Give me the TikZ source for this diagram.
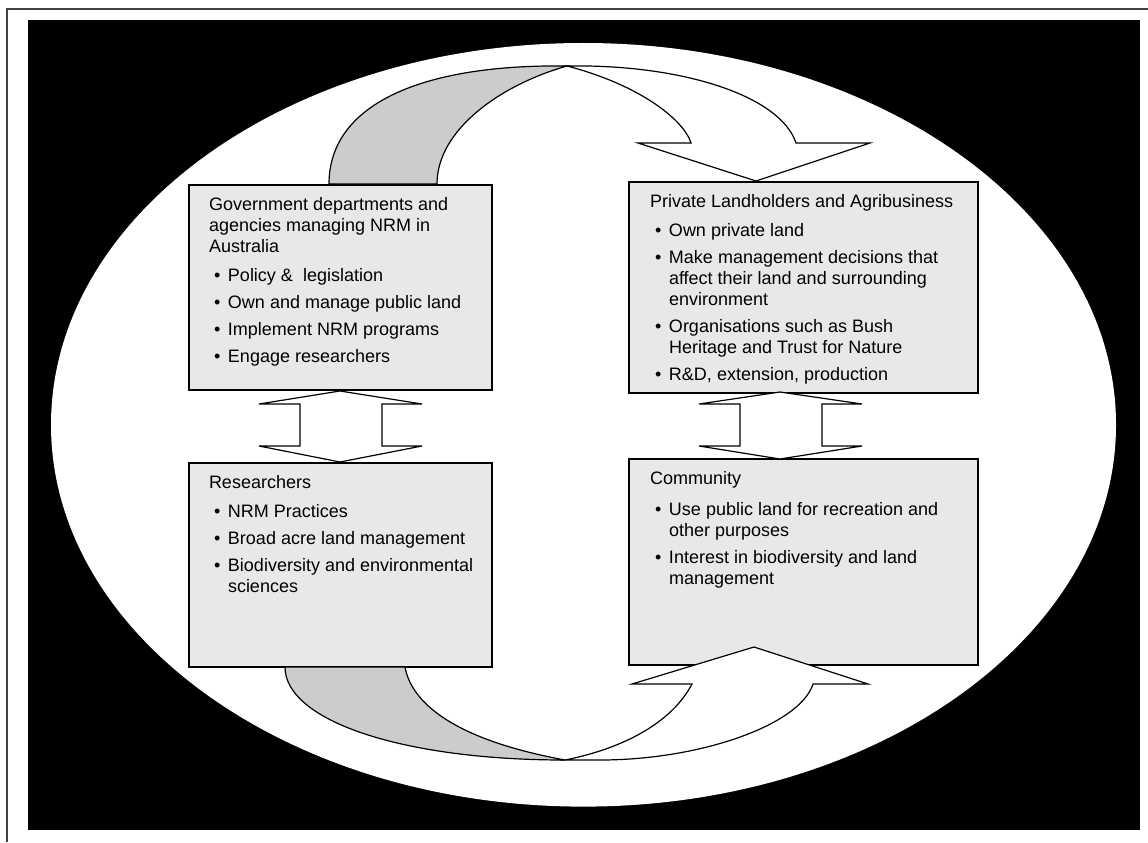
\documentclass[tikz,border=0pt]{standalone}
\usepackage{fontspec}
\setmainfont{Liberation Sans}
\newcommand\bitem[1]{\par\vspace{4.5pt}\hangindent=14.25pt\hangafter=1\noindent\makebox[14.25pt][l]{\hspace{3.75pt}\textbullet}#1}
\newcommand\boxtext[2]{\parbox[t]{#1}{\fontsize{13.5pt}{15.75pt}\selectfont\raggedright #2}}
\tikzset{
  box/.style={draw=black, line width=1pt, fill=boxgray, anchor=north west, inner sep=0pt, outer sep=0pt},
  txt/.style={anchor=base west, inner sep=0pt, outer sep=0pt},
  shapeline/.style={draw=black, line width=0.9pt, line join=miter},
}
\definecolor{boxgray}{RGB}{232,232,232}
\definecolor{bandgray}{RGB}{204,204,204}
\begin{document}
\begin{tikzpicture}[x=0.75pt,y=-0.75pt]
\useasboundingbox (0,0) rectangle (1148,842);
\fill[white] (0,0) rectangle (1148,842);
% frame
\draw[line width=1.3pt, black!75] (7,842) -- (7,9) -- (1148,9);
% black background and white ellipse
\fill[black] (28,20) rectangle (1140,830);
\fill[white] (583.5,424.8) ellipse [x radius=532.5, y radius=381.8];

% boxes
\node[box, minimum width=227.25pt, minimum height=153.75pt] (gov) at (189,185) {};
\node[box, minimum width=261.75pt, minimum height=158.25pt] (priv) at (629,182) {};
\node[box, minimum width=227.25pt, minimum height=153pt] (res) at (189,463) {};
\node[box, minimum width=261.75pt, minimum height=154.5pt] (com) at (629,459) {};

% texts
\node[txt] (govt) at (209,210.5) {\boxtext{210pt}{Government departments and\newline agencies managing NRM in\newline Australia\par\vspace{1.5pt}
\bitem{Policy \& \ legislation}
\bitem{Own and manage public land}
\bitem{Implement NRM programs}
\bitem{Engage researchers}}};
\node[txt] (privt) at (650,207.5) {\boxtext{240pt}{Private Landholders and Agribusiness\par\vspace{1.5pt}
\bitem{Own private land}
\bitem{Make management decisions that\newline affect their land and surrounding\newline environment}
\bitem{Organisations such as Bush\newline Heritage and Trust for Nature}
\bitem{R\&D, extension, production}}};
\node[txt] (rest) at (209,488.5) {\boxtext{210pt}{Researchers\par\vspace{1.5pt}
\bitem{NRM Practices}
\bitem{Broad acre land management}
\bitem{Biodiversity and environmental\newline sciences}}};
\node[txt] (comt) at (650,484.5) {\boxtext{240pt}{Community\par\vspace{3pt}
\bitem{Use public land for recreation and\newline other purposes}
\bitem{Interest in biodiversity and land\newline management}}};

% double arrows between boxes
\draw[shapeline, fill=white] (340,391) -- (422,404) -- (382,404) -- (382,446) -- (422,446) -- (340,462) -- (259,446) -- (300,446) -- (300,404) -- (259,404) -- cycle;
\draw[shapeline, fill=white] (780,392) -- (862,404) -- (822,404) -- (822,446) -- (862,446) -- (780,459) -- (699,446) -- (740,446) -- (740,404) -- (699,404) -- cycle;

% top curved arrow (gov -> private)
\coordinate (tT) at (567,66);
\draw[shapeline, fill=white] (tT) .. controls (680,64) and (780,95) .. (796,143) -- (870,143) -- (756,181) -- (638,143) -- (691,143)
   .. controls (684,120) and (640,85) .. (tT) -- cycle;
\draw[shapeline, fill=bandgray] (329,184) .. controls (329,105) and (420,64) .. (tT)
   .. controls (500,85) and (437,130) .. (437,184) -- cycle;

% bottom curved arrow (researchers -> community)
\coordinate (bT) at (565,760);
\draw[shapeline, fill=white] (bT) -- (600,760) .. controls (700,760) and (800,725) .. (813,684) -- (868,684) -- (754,647) -- (632,684) -- (692,684)
   .. controls (672,722) and (625,748) .. (bT) -- cycle;
\draw[shapeline, fill=bandgray] (285,667) .. controls (285,720) and (400,760) .. (bT)
   .. controls (440,737) and (410,695) .. (405,667) -- cycle;
\end{tikzpicture}
\end{document}
